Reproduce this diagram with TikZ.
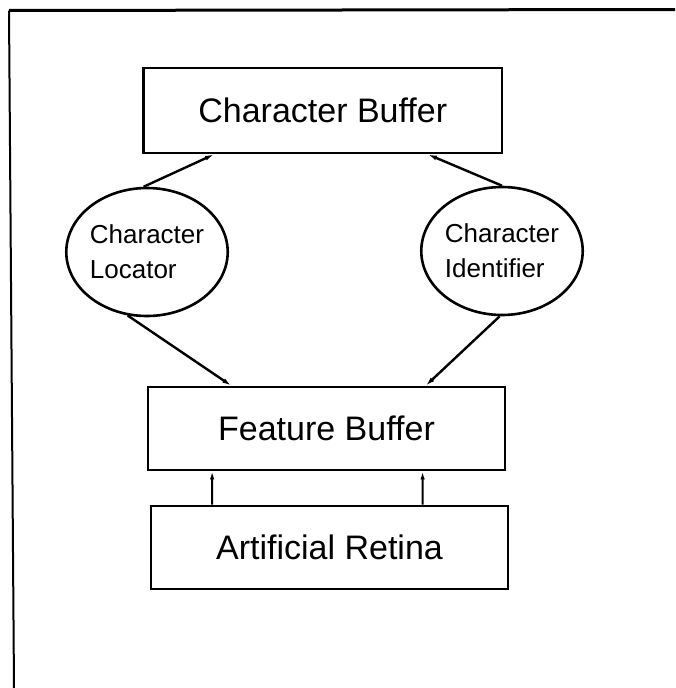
\documentclass[tikz,border=0pt]{standalone}
\usepackage{fontspec}
\setmainfont{Liberation Sans}
\usetikzlibrary{shapes.geometric,arrows.meta,calc}

\begin{document}
\begin{tikzpicture}[x=1pt,y=-1pt,
  buffer/.style={draw,line width=2.8pt,rectangle,inner sep=0pt,
    font=\fontsize{34}{40}\selectfont},
  module/.style={draw,line width=2.6pt,ellipse,inner sep=0pt,
    minimum width=160pt,minimum height=128pt,align=left,
    font=\fontsize{26}{35}\selectfont},
  link/.style={line width=2.4pt,-{Latex[length=9pt,width=5pt]}},
  feed/.style={line width=2pt,-{Latex[length=8pt,width=4.5pt]}}]

\useasboundingbox (0,0) rectangle (675,688);

% frame
\draw[line width=3pt] (9,10.5) -- (675,9.5);
\draw[line width=2pt] (9,10.5) -- (14,688);

% buffers
\node[buffer,minimum width=358.5pt,minimum height=85pt] (cb) at (322.75,110.5) {Character Buffer};
\node[buffer,minimum width=357pt,minimum height=83pt] (fb) at (326.5,428.5) {Feature Buffer};
\node[buffer,minimum width=357pt,minimum height=83pt] (ar) at (329.5,547.5) {Artificial Retina};

% processing modules
\node[module] (loc) at (147,252) {Character\\Locator};
\node[module] (idf) at (502,251) {Character\\Identifier};

% module outputs into the character buffer
\draw[link] (loc.93) -- ($(cb.south west)!0.199!(cb.south east)$);
\draw[link] (idf.90) -- ($(cb.south west)!0.791!(cb.south east)$);

% feature buffer into the modules
\draw[link] (loc.253) -- ($(fb.north west)!0.235!(fb.north east)$);
\draw[link] (idf.268) -- ($(fb.north west)!0.776!(fb.north east)$);

% retina into the feature buffer
\draw[feed] ($(ar.north west)!0.174!(ar.north east)$) -- ($(fb.south west)!0.182!(fb.south east)$);
\draw[feed] ($(ar.north west)!0.759!(ar.north east)$) -- ($(fb.south west)!0.767!(fb.south east)$);
\end{tikzpicture}
\end{document}
